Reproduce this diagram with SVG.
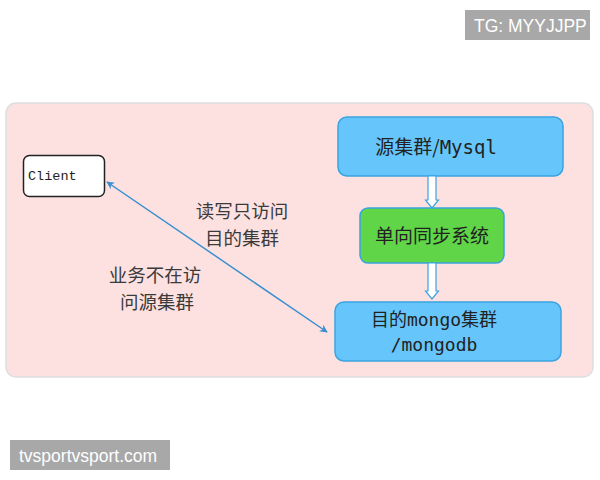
<svg xmlns="http://www.w3.org/2000/svg" width="600" height="480" viewBox="0 0 600 480">
<style>
.cjk{font-family:"Noto Sans CJK SC","Noto Sans",sans-serif;}
.mono{font-family:"DejaVu Sans Mono","Noto Sans CJK SC",monospace;}
.lbl{font-size:18.5px;fill:#3a3a3a;text-anchor:middle;}
.node{font-size:19px;fill:#222222;text-anchor:middle;}
.blue{fill:#66c6fb;stroke:#3aa4e0;stroke-width:1.5;}
.hollow{fill:#ffffff;stroke:#3aa4e0;stroke-width:1.2;}
.wm{fill:#a8a8a8;}
.wmt{font-family:"Liberation Sans",Arial,sans-serif;font-size:17.5px;fill:#ffffff;}
</style>
<defs>
<marker id="ah" viewBox="0 0 10 10" refX="9" refY="5" markerWidth="8" markerHeight="8" orient="auto-start-reverse" markerUnits="userSpaceOnUse">
<path d="M0,0 L10,5 L0,10 L3,5 Z" fill="#3a8fd0"/>
</marker>
</defs>
<rect width="600" height="480" fill="#ffffff"/>
<rect x="6" y="103" width="587" height="274" rx="10" fill="#fde1e1" stroke="#dedede" stroke-width="1.5"/>

<g id="client">
<rect x="23.5" y="155.5" width="81" height="41" rx="6" fill="#ffffff" stroke="#222222" stroke-width="1.5"/>
<text x="28" y="180" font-family="'Liberation Mono','Courier New',monospace" font-size="13.5" fill="#222222">Client</text>
</g>

<g id="source">
<rect class="blue" x="338" y="117" width="225" height="59" rx="9"/>
<text class="node cjk" x="436" y="154" font-size="18">源集群/<tspan class="mono">Mysql</tspan></text>
</g>

<g id="sync">
<rect x="360" y="208" width="144" height="55" rx="8" fill="#5fd547" stroke="#3aa4e0" stroke-width="1.5"/>
<text class="node cjk" x="432" y="243">单向同步系统</text>
</g>

<g id="target">
<rect class="blue" x="335" y="302" width="226" height="59" rx="9"/>
<text class="node cjk" x="434" y="326" style="font-size:18px">目的<tspan class="mono">mongo</tspan>集群</text>
<text class="node mono" x="434" y="351" style="font-size:18px">/mongodb</text>
</g>

<g id="connectors">
<path class="hollow" d="M428,176 L436,176 L436,200 L438.5,200 L432,208 L425.5,200 L428,200 Z"/>
<path class="hollow" d="M428,263 L436,263 L436,291 L438.5,291 L432,299 L425.5,291 L428,291 Z"/>
<line x1="107" y1="182" x2="327" y2="332" stroke="#3a8fd0" stroke-width="1.5" marker-start="url(#ah)" marker-end="url(#ah)"/>
</g>

<g id="labels">
<text class="lbl cjk"><tspan x="242" y="218">读写只访问</tspan><tspan x="242" y="245">目的集群</tspan></text>
<text class="lbl cjk"><tspan x="155" y="282">业务不在访</tspan><tspan x="157" y="309">问源集群</tspan></text>
</g>

<g id="watermarks">
<rect class="wm" x="465" y="10" width="125" height="30"/>
<text class="wmt" x="474" y="31.5">TG: MYYJJPP</text>
<rect class="wm" x="10" y="440" width="160" height="30"/>
<text class="wmt" x="19" y="461.5">tvsportvsport.com</text>
</g>
</svg>
